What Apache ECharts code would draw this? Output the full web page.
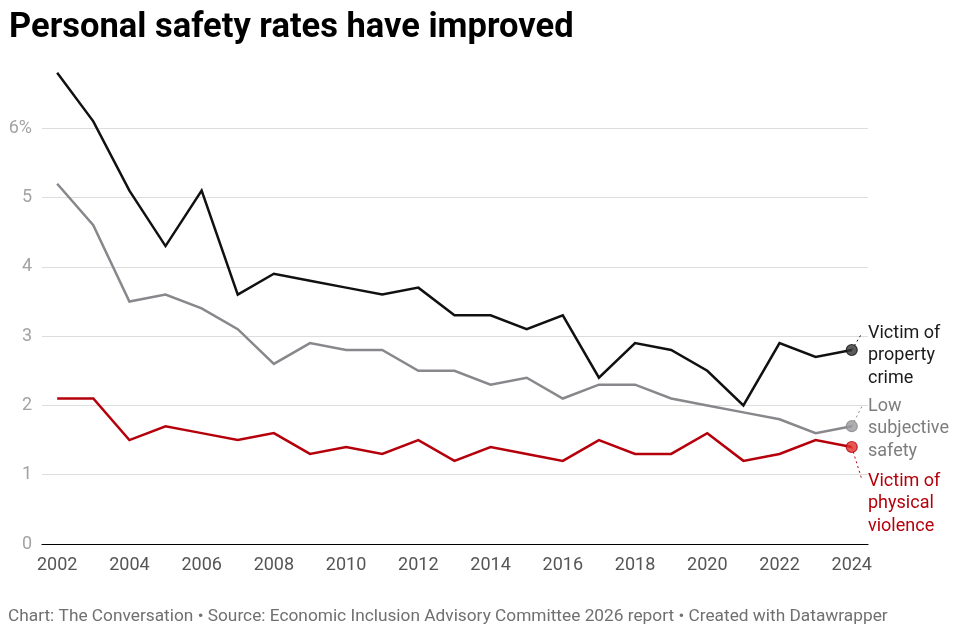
<!DOCTYPE html>
<html>
<head>
<meta charset="utf-8">
<script src="https://cdn.jsdelivr.net/npm/echarts@6/dist/echarts.min.js"></script>
<style>
  html, body { margin: 0; padding: 0; background: #fff; }
  #chart { width: 960px; height: 636px; }
</style>
</head>
<body>
<div id="chart"></div>
<script>
const years = [2002, 2003, 2004, 2005, 2006, 2007, 2008, 2009, 2010, 2011, 2012, 2013,
  2014, 2015, 2016, 2017, 2018, 2019, 2020, 2021, 2022, 2023, 2024];
const propertyCrime = [6.8, 6.1, 5.1, 4.3, 5.1, 3.6, 3.9, 3.8, 3.7, 3.6, 3.7, 3.3,
  3.3, 3.1, 3.3, 2.4, 2.9, 2.8, 2.5, 2.0, 2.9, 2.7, 2.8];
const lowSafety = [5.2, 4.6, 3.5, 3.6, 3.4, 3.1, 2.6, 2.9, 2.8, 2.8, 2.5, 2.5,
  2.3, 2.4, 2.1, 2.3, 2.3, 2.1, 2.0, 1.9, 1.8, 1.6, 1.7];
const physicalViolence = [2.1, 2.1, 1.5, 1.7, 1.6, 1.5, 1.6, 1.3, 1.4, 1.3, 1.5, 1.2,
  1.4, 1.3, 1.2, 1.5, 1.3, 1.3, 1.6, 1.2, 1.3, 1.5, 1.4];
const xTickLabels = [2002, 2004, 2006, 2008, 2010, 2012, 2014, 2016, 2018, 2020, 2022, 2024];

const lines = [
  { name: "Victim of property crime", values: propertyCrime, color: "#111111",
    dot: "#333333", dotBorder: "#111111", text: "Victim of\nproperty\ncrime", textColor: "#1a1a1a", dy: -17 },
  { name: "Low subjective safety", values: lowSafety, color: "#88888c",
    dot: "#9a9a9e", dotBorder: "#88888c", text: "Low\nsubjective\nsafety", textColor: "#7d7d7d", dy: -20 },
  { name: "Victim of physical violence", values: physicalViolence, color: "#b5000b",
    dot: "#e0302a", dotBorder: "#b5000b", text: "Victim of\nphysical\nviolence", textColor: "#b5000b", dy: 34 }
];

const chart = echarts.init(document.getElementById("chart"), null, { renderer: "canvas" });

const pair = (vals) => years.map((y, i) => [y, vals[i]]);
const last = years.length - 1;

const series = [];
lines.forEach((l) => {
  series.push({
    name: l.name,
    type: "line",
    data: pair(l.values),
    symbol: "none",
    lineStyle: { color: l.color, width: 2.5, join: "miter" },
    z: 3,
    animation: false
  });
});
// end dots
lines.forEach((l) => {
  series.push({
    type: "scatter",
    data: [[years[last], l.values[last]]],
    symbolSize: 11,
    itemStyle: { color: l.dot, borderColor: l.dotBorder, borderWidth: 1.2 },
    z: 5,
    animation: false
  });
});

const option = {
  backgroundColor: "#ffffff",
  textStyle: { fontFamily: "Roboto" },
  title: {
    text: "Personal safety rates have improved",
    left: 4,
    top: 6,
    textStyle: { fontFamily: "Roboto", fontWeight: "bold", fontSize: 34.5, color: "#000" }
  },
  grid: { left: 42, right: 92, top: 59, bottom: 92 },
  xAxis: {
    type: "value",
    min: 2001.58,
    max: 2024.45,
    splitLine: { show: false },
    axisLine: { show: true, lineStyle: { color: "#000", width: 1.2 } },
    axisTick: { show: false },
    axisLabel: {
      customValues: xTickLabels,
      formatter: (v) => String(v),
      color: "#555",
      fontSize: 18,
      margin: 12
    }
  },
  yAxis: {
    type: "value",
    min: 0,
    max: 7,
    interval: 1,
    axisLine: { show: false },
    axisTick: { show: false },
    axisLabel: {
      color: "#a3a3a3",
      fontSize: 18,
      margin: 10,
      showMaxLabel: false,
      formatter: (v) => (v === 7 ? "" : v === 6 ? "6%" : String(v))
    },
    splitLine: {
      lineStyle: {
        color: ["#dddddd", "#dddddd", "#dddddd", "#dddddd", "#dddddd", "#dddddd", "#dddddd", "rgba(0,0,0,0)"],
        width: 1
      }
    }
  },
  series: series
};

chart.setOption(option);

// Direct labels to the right of the last points
function drawLabels() {
  const elements = [];
  const textX = 868;
  lines.forEach((l) => {
    const p = chart.convertToPixel({ gridIndex: 0 }, [years[last], l.values[last]]);
    const firstLineY = p[1] + l.dy;
    const leaderEnd = l.dy < 0 ? [textX - 6, firstLineY] : [textX - 6, firstLineY - 1];
    elements.push({
      type: "line",
      shape: { x1: p[0], y1: p[1], x2: leaderEnd[0], y2: leaderEnd[1] },
      style: { stroke: l.color, lineWidth: 1, lineDash: [2, 3] },
      z: 4
    });
    elements.push({
      type: "text",
      x: textX,
      y: firstLineY - 11,
      style: {
        text: l.text,
        fill: l.textColor,
        font: "18px Roboto",
        lineHeight: 22.5,
        textVerticalAlign: "top"
      },
      z: 6
    });
  });
  elements.push({
    type: "text",
    left: 8,
    top: 608,
    style: {
      text: "Chart: The Conversation \u2022 Source: Economic Inclusion Advisory Committee 2026 report \u2022 Created with Datawrapper",
      fill: "#707070",
      font: "17.3px Roboto"
    }
  });
  chart.setOption({ graphic: elements });
}
drawLabels();
</script>
</body>
</html>
